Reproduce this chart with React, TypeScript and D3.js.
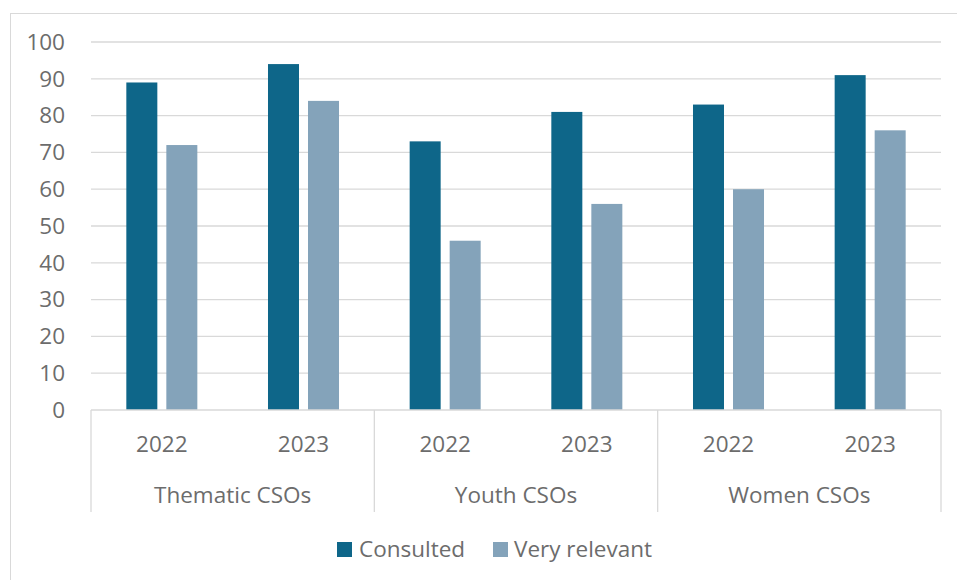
import React from "react";
import * as d3 from "d3";

const categories = ["Thematic CSOs", "Youth CSOs", "Women CSOs"];
const years = ["2022", "2023"];
const seriesNames = ["Consulted", "Very relevant"];
const consulted = [89, 94, 73, 81, 83, 91];
const veryRelevant = [72, 84, 46, 56, 60, 76];
const yTicks = [0, 10, 20, 30, 40, 50, 60, 70, 80, 90, 100];

const colors = ["#0E6689", "#84A3BA"];
const textColor = "#6C6C6C";
const gridColor = "#D9D9D9";
const font = "'Open Sans', 'Noto Sans', sans-serif";
const fs = 22.5;

export default function App() {
  const W = 957, H = 580;
  const left = 91, right = 941, top = 42, bottom = 410;
  const subKeys = categories.flatMap((c) => years.map((y) => `${c}|${y}`));
  const x0 = d3.scaleBand<string>().domain(subKeys).range([left, right]).paddingInner(0).paddingOuter(0);
  const catScale = d3.scaleBand<string>().domain(categories).range([left, right]);
  const x1 = d3.scaleBand<string>().domain(seriesNames).range([0, x0.bandwidth()]).paddingInner(0.225).paddingOuter(0.883);
  const y = d3.scaleLinear().domain([0, 100]).range([bottom, top]);
  const series = [consulted, veryRelevant];

  return (
    <svg width={W} height={H} style={{ position: "absolute", left: 0, top: 0 }}>
      <rect x={10.5} y={13.5} width={990} height={700} fill="white" stroke="#D9D9D9" strokeWidth={1} />
      {yTicks.map((t) => (
        <g key={t}>
          {t > 0 && <line x1={left} x2={right} y1={y(t)} y2={y(t)} stroke={gridColor} strokeWidth={1.3} />}
          <text x={65} y={y(t)} dy="0.35em" textAnchor="end" fontFamily={font} fontSize={fs} fill={textColor}>
            {t}
          </text>
        </g>
      ))}
      {subKeys.map((k, i) =>
        seriesNames.map((s, j) => (
          <rect
            key={k + s}
            x={(x0(k) as number) + (x1(s) as number)}
            y={y(series[j][i])}
            width={x1.bandwidth()}
            height={bottom - y(series[j][i])}
            fill={colors[j]}
          />
        ))
      )}
      <line x1={left} x2={right} y1={bottom} y2={bottom} stroke={gridColor} strokeWidth={1.3} />
      {[...categories.map((c) => catScale(c) as number), right].map((xv, i) => (
        <line key={i} x1={xv} x2={xv} y1={bottom} y2={512} stroke={gridColor} strokeWidth={1.3} />
      ))}
      {subKeys.map((k) => (
        <text key={k} x={(x0(k) as number) + x0.bandwidth() / 2} y={444} dy="0.35em" textAnchor="middle" fontFamily={font} fontSize={fs} fill={textColor}>
          {k.split("|")[1]}
        </text>
      ))}
      {categories.map((c) => (
        <text key={c} x={(catScale(c) as number) + catScale.bandwidth() / 2} y={495} dy="0.35em" textAnchor="middle" fontFamily={font} fontSize={fs} fill={textColor}>
          {c}
        </text>
      ))}
      <g>
        <rect x={337} y={542} width={15} height={15} fill={colors[0]} />
        <text x={359} y={549} dy="0.35em" fontFamily={font} fontSize={fs} fill={textColor}>{seriesNames[0]}</text>
        <rect x={493} y={542} width={15} height={15} fill={colors[1]} />
        <text x={514} y={549} dy="0.35em" fontFamily={font} fontSize={fs} fill={textColor}>{seriesNames[1]}</text>
      </g>
    </svg>
  );
}
